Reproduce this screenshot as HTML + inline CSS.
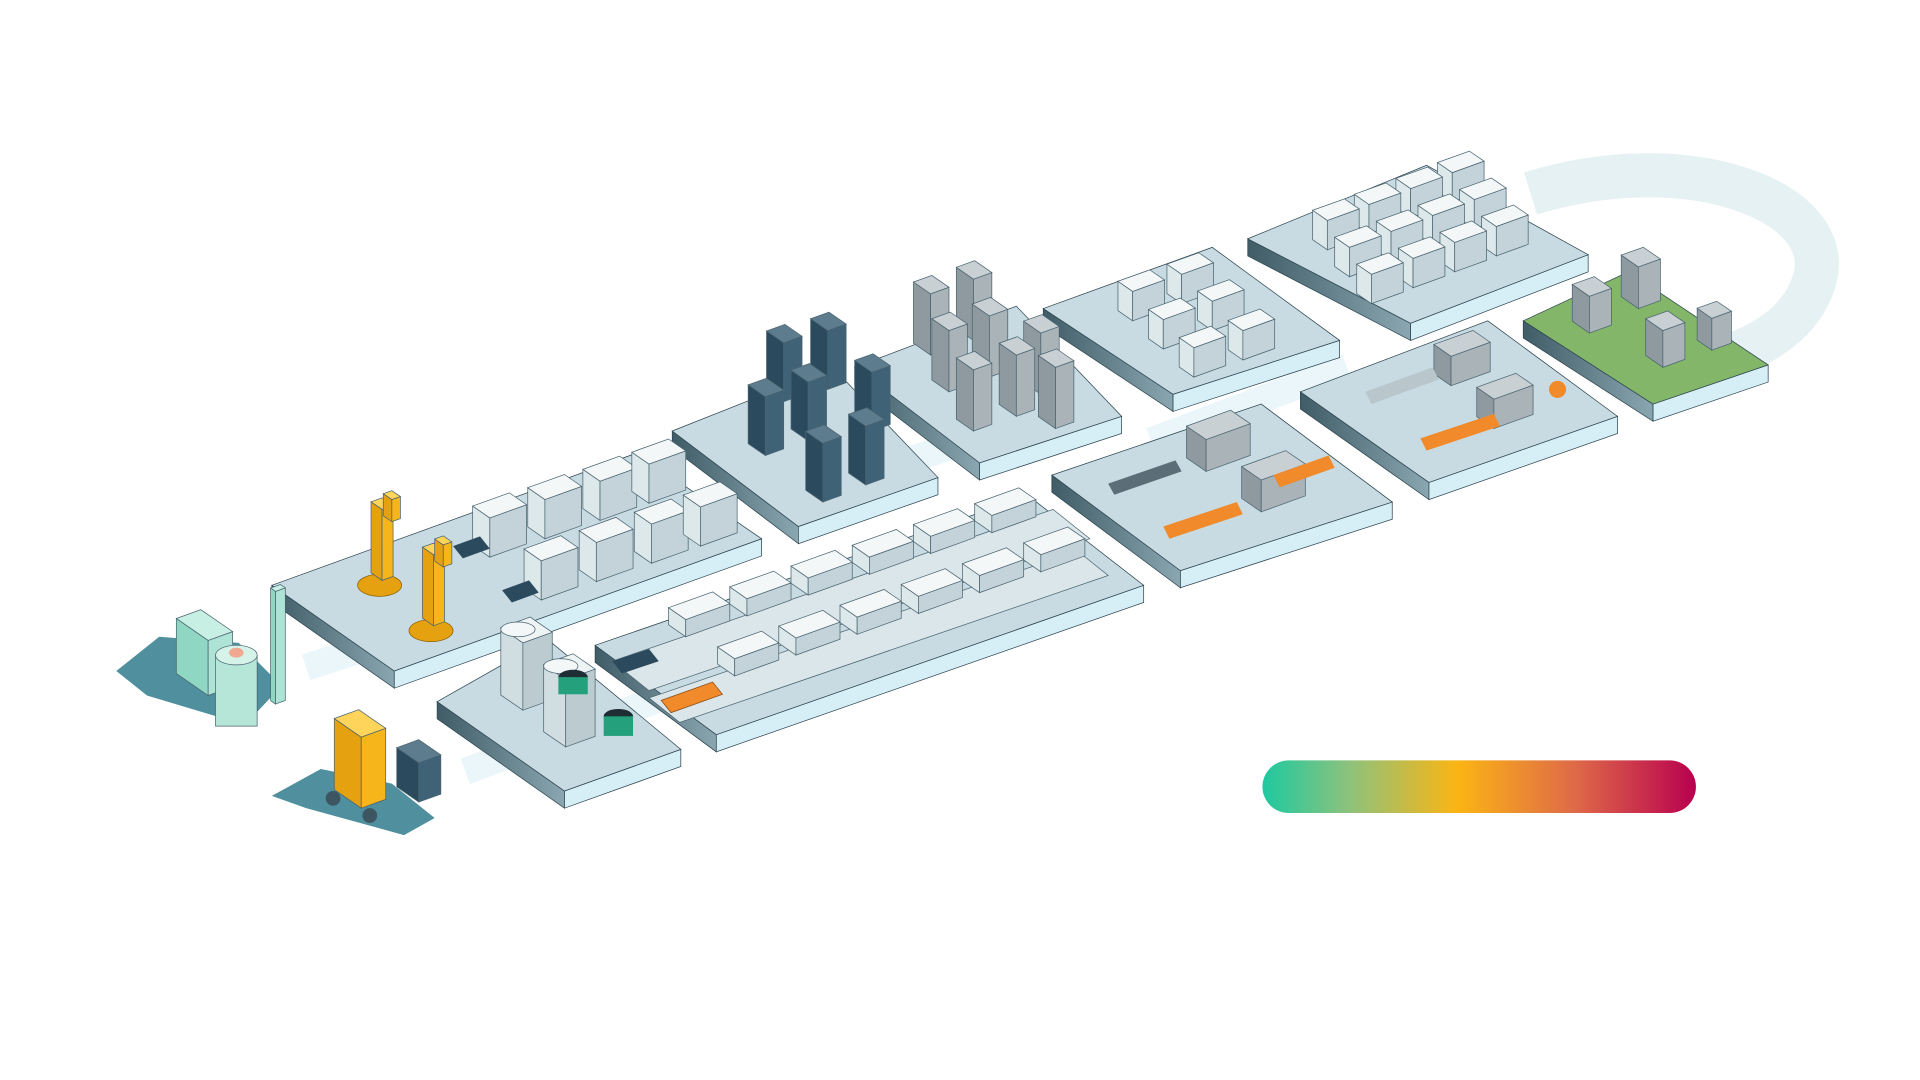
<!DOCTYPE html>
<html><head><meta charset="utf-8"><style>html,body{margin:0;padding:0;background:#fff;width:1920px;height:1080px;overflow:hidden}svg{display:block}</style></head>
<body>
<svg id="s" width="1920" height="1080" viewBox="0 0 1568 882" xmlns="http://www.w3.org/2000/svg">
<defs>
<linearGradient id="bar" x1="0" x2="1" y1="0" y2="0">
<stop offset="0" stop-color="#1ec9a0"/><stop offset="0.2" stop-color="#8dc27c"/><stop offset="0.45" stop-color="#fbb514"/><stop offset="0.72" stop-color="#df6a48"/><stop offset="1" stop-color="#b8004f"/></linearGradient>
<linearGradient id="sideL" x1="0" x2="1"><stop offset="0" stop-color="#3f5c67"/><stop offset="1" stop-color="#8aa6b0"/></linearGradient>
</defs>
<path d="M1250,158 C1380,118 1500,165 1482,228 C1468,278 1405,300 1350,302" fill="none" stroke="#e5f1f2" stroke-width="36"/>
<path d="M250,545 L480,470 M380,630 L540,570 M700,390 L880,330 M940,360 L1100,300" stroke="#eaf6fa" stroke-width="22" fill="none"/>
<g id="plats"></g>
<g id="eq"></g>
<rect x="1031" y="621" width="354" height="43" rx="21.5" fill="url(#bar)"/>
</svg>
<script>
var NS="http://www.w3.org/2000/svg";
function el(p,t,a){var e=document.createElementNS(NS,t);for(var k in a)e.setAttribute(k,a[k]);p.appendChild(e);return e;}
function pts(a){return a.map(function(p){return p[0].toFixed(1)+","+p[1].toFixed(1)}).join(" ");}
var P=document.getElementById("plats"),E=document.getElementById("eq");
function plat(L,T,R,B,t,top){
 top=top||"#c8dbe3";
 el(P,"polygon",{points:pts([L,B,[B[0],B[1]+t],[L[0],L[1]+t]]),fill:"url(#sideL)",stroke:"#2e4650","stroke-width":0.6});
 el(P,"polygon",{points:pts([B,R,[R[0],R[1]+t],[B[0],B[1]+t]]),fill:"#d6eef6",stroke:"#2e4650","stroke-width":0.6});
 el(P,"polygon",{points:pts([L,T,R,B]),fill:top,stroke:"#2e4650","stroke-width":0.6});
}
plat([222,478],[520,370],[622,440],[322,548],14);
plat([357,573],[447,522],[556,612],[461,646],14);
plat([486,527],[840,405],[934,478],[585,600],14);
plat([549,352],[680,300],[766,390],[652,430],14);
plat([698,300],[830,250],[916,340],[800,378],14);
plat([852,252],[990,202],[1094,278],[958,322],14);
plat([1019,195],[1165,135],[1297,208],[1152,264],14);
plat([859,388],[1030,330],[1137,410],[964,466],14);
plat([1062,320],[1215,262],[1321,340],[1167,394],14);
plat([1244,262],[1330,222],[1444,298],[1350,330],14,"#84b66a");
var W={t:"#f3f7f8",l:"#dde8eb",r:"#c3d3d9"},D={t:"#5d7d8f",l:"#2c4a5e",r:"#3f6277"},G={t:"#c9d0d4",l:"#8f9aa0",r:"#a9b3b8"},Y={t:"#ffd45a",l:"#e5a10f",r:"#f5b51b"},T={t:"#c8efe4",l:"#8fd6c3",r:"#aee4d5"};
function box(x,y,w,d,h,c){
 var F=[x,y],A=[x-d,y-0.69*d],Bp=[x+w,y-0.36*w];
 var up=function(p){return [p[0],p[1]-h]};
 var C=[A[0]+w,A[1]-0.36*w];
 var s={stroke:"#4a6470","stroke-width":0.6};
 el(E,"polygon",Object.assign({points:pts([F,A,up(A),up(F)]),fill:c.l},s));
 el(E,"polygon",Object.assign({points:pts([F,Bp,up(Bp),up(F)]),fill:c.r},s));
 el(E,"polygon",Object.assign({points:pts([up(F),up(A),up(C),up(Bp)]),fill:c.t},s));
}
function shadow(p,col){el(E,"polygon",{points:pts(p),fill:col||"#4f8f9e"});}
shadow([[95,548],[130,520],[195,525],[230,560],[200,592],[120,568]]);
shadow([[222,650],[262,628],[320,640],[355,668],[330,682],[250,660]]);
box(170,568,20,26,45,T);box(225,575,8,4,92,T);
el(E,"rect",{x:176,y:535,width:34,height:58,fill:"#b5e6d8",stroke:"#4a6470","stroke-width":0.6});
el(E,"ellipse",{cx:193,cy:535,rx:17,ry:8,fill:"#d6f3ea",stroke:"#4a6470","stroke-width":0.6});
el(E,"ellipse",{cx:193,cy:533,rx:6,ry:4,fill:"#f0a890"});
box(295,660,20,22,58,Y);box(342,655,18,18,32,D);
el(E,"circle",{cx:272,cy:652,r:6,fill:"#3d5560"});el(E,"circle",{cx:302,cy:666,r:6,fill:"#3d5560"});
// machines on robot platform
[[400,455],[445,440],[490,425],[530,411]].forEach(function(p){box(p[0],p[1],30,14,32,W);});
[[442,490],[487,475],[532,460],[572,446]].forEach(function(p){box(p[0],p[1],30,14,32,W);});
el(E,"polygon",{points:"370,446 392,438 400,448 378,456",fill:"#2c4a5e"});
el(E,"polygon",{points:"410,482 432,474 440,484 418,492",fill:"#2c4a5e"});
[[310,478],[352,515]].forEach(function(p){
 el(E,"ellipse",{cx:p[0],cy:p[1],rx:18,ry:9,fill:"#e5a10f",stroke:"#8a5f00","stroke-width":0.6});
 box(p[0]+2,p[1]-4,9,9,58,Y);box(p[0]+10,p[1]-52,7,7,18,Y);
});
[[415,580],[450,610]].forEach(function(p){box(p[0]+12,p[1],24,18,55,{t:"#eef3f4",l:"#d0dde1",r:"#bccbd0"});
 el(E,"ellipse",{cx:p[0]+8,cy:p[1]-66,rx:14,ry:6,fill:"#f3f7f8",stroke:"#4a6470","stroke-width":0.6});});
el(E,"ellipse",{cx:468,cy:553,rx:12,ry:6,fill:"#1f2d35"});el(E,"rect",{x:456,y:553,width:24,height:14,fill:"#24a07c"});
el(E,"ellipse",{cx:505,cy:585,rx:12,ry:6,fill:"#1f2d35"});el(E,"rect",{x:493,y:585,width:24,height:16,fill:"#24a07c"});
// conveyor
el(E,"polygon",{points:"500,540 860,416 890,440 530,564",fill:"#dbe6ea",stroke:"#4a6470","stroke-width":0.6});
el(E,"polygon",{points:"530,570 880,450 905,470 555,590",fill:"#dbe6ea",stroke:"#4a6470","stroke-width":0.6});
for(var i=0;i<6;i++){box(560+i*50,520-i*17,36,14,14,W);box(600+i*50,552-i*17,36,14,14,W);}
el(E,"polygon",{points:"540,572 582,557 590,567 548,582",fill:"#f08a2b",stroke:"#8a4a10","stroke-width":0.6});
el(E,"polygon",{points:"500,540 530,530 538,540 508,550",fill:"#2c4a5e"});
// racks 1
[[625,372],[660,360],[672,410],[707,396],[640,328],[676,318],[712,352]].sort(function(a,b){return a[1]-b[1]}).forEach(function(p){box(p[0],p[1],15,14,48,D);});
// racks 2
[[775,320],[808,308],[795,352],[830,340],[760,290],[795,278],[850,322],[862,350]].sort(function(a,b){return a[1]-b[1]}).forEach(function(p){box(p[0],p[1],15,14,50,G);});
// P6
[[925,262],[965,248],[950,285],[990,270],[975,308],[1015,294]].sort(function(a,b){return a[1]-b[1]}).forEach(function(p){box(p[0],p[1],26,12,24,W);});
// P7
var p7=[];for(var r=0;r<3;r++)for(var c=0;c<4;c++)p7.push([1120+c*34-r*18,248-c*13-r*22]);
p7.sort(function(a,b){return a[1]-b[1]}).forEach(function(p){box(p[0],p[1],26,12,24,W);});
// P8
box(985,385,36,16,26,G);box(1030,418,36,16,26,G);
el(E,"polygon",{points:"905,395 960,376 965,385 910,404",fill:"#5b6e78"});el(E,"polygon",{points:"950,430 1010,410 1015,420 955,440",fill:"#f08a2b"});
el(E,"polygon",{points:"1040,388 1085,372 1090,382 1045,398",fill:"#f08a2b"});
// P9
box(1185,315,32,14,24,G);box(1220,350,32,14,24,G);
el(E,"polygon",{points:"1115,320 1170,300 1175,310 1120,330",fill:"#b9c6cc"});el(E,"polygon",{points:"1160,358 1220,338 1225,348 1165,368",fill:"#f08a2b"});
el(E,"circle",{cx:1272,cy:318,r:7,fill:"#f08a2b"});
// green
box(1298,272,18,14,30,G);box(1338,252,18,14,34,G);box(1358,300,18,14,30,G);box(1398,286,16,12,26,G);
</script>
</body></html>
